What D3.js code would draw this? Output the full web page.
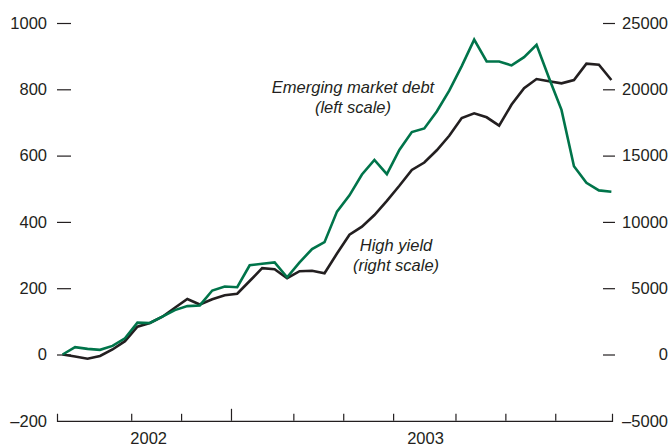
<!DOCTYPE html>
<html>
<head>
<meta charset="utf-8">
<script src="https://cdn.jsdelivr.net/npm/d3@7"></script>
<style>
  html, body { margin: 0; padding: 0; background: #ffffff; }
  svg { display: block; }
  text { font-family: "Liberation Sans", Arial, sans-serif; fill: #231f20; }
</style>
</head>
<body>
<svg id="chart" width="672" height="445"></svg>
<script>
// Weekly observations (index 0..44)
const emergingMarketDebt = [
  0, 22, 17, 14, 26, 49, 96, 95, 114, 134, 146, 148,
  193, 205, 203, 269, 274, 278, 233, 278, 318, 339, 431, 480,
  543, 587, 544, 617, 671, 682, 733, 796, 870, 950, 884, 884,
  872, 897, 934, 834, 738, 568, 518, 495, 491
];
const highYield = [
  0, -150, -317, -113, 377, 1003, 2096, 2375, 2850, 3522, 4186, 3771,
  4170, 4465, 4585, 5543, 6508, 6433, 5754, 6282, 6320, 6124, 7617, 9035,
  9638, 10520, 11591, 12722, 13914, 14480, 15400, 16493, 17836, 18190, 17888, 17255,
  18854, 20075, 20776, 20603, 20452, 20701, 21931, 21855, 20701
];
const leftTicks = [-200, 0, 200, 400, 600, 800, 1000];
const rightTicks = [-5000, 0, 5000, 10000, 15000, 20000, 25000];
const monthTicks = [5.5, 9.5, 13.5, 18.5, 22.5, 26.5, 31.5, 35.5, 39.5];
const yearBoundary = [13.5];
const yearLabels = ["2002", "2003"];
const yearLabelPos = [6.9, 29.1];

const svg = d3.select("#chart");
const ink = "#231f20";
const green = "#00744a";

const x = d3.scaleLinear().domain([-0.45, 44.05]).range([57, 612]);
const yL = d3.scaleLinear().domain([-200, 1000]).range([420.8, 23]);
const yR = d3.scaleLinear().domain([-5000, 25000]).range([420.8, 23]);

const dashFmt = v => String(v).replace("-", "\u2013");

// Left axis
const gL = svg.append("g").attr("transform", "translate(71,0)")
  .call(d3.axisLeft(yL).tickValues(leftTicks).tickSize(14).tickPadding(10).tickFormat(dashFmt));
gL.select(".domain").remove();
gL.selectAll(".tick line").attr("stroke", ink).attr("stroke-width", 1.2)
  .filter(d => d === -200).remove();
gL.selectAll(".tick text").attr("fill", ink).style("font-size", "16.5px")
  .style("font-family", "'Liberation Sans', Arial, sans-serif");

// Right axis
const gR = svg.append("g").attr("transform", "translate(603,0)")
  .call(d3.axisRight(yR).tickValues(rightTicks).tickSize(12).tickPadding(0).tickFormat(dashFmt));
gR.select(".domain").remove();
gR.selectAll(".tick line").attr("stroke", ink).attr("stroke-width", 1.2)
  .filter(d => d === -5000).remove();
gR.selectAll(".tick text").attr("fill", ink).style("font-size", "16.5px")
  .style("font-family", "'Liberation Sans', Arial, sans-serif")
  .attr("text-anchor", "end").attr("x", 65);

// Bottom axis (ticks point upward)
const gB = svg.append("g").attr("transform", "translate(0,420.8)")
  .call(d3.axisBottom(x).tickValues(monthTicks).tickSize(-7).tickSizeOuter(-7).tickFormat(""));
gB.select(".domain").attr("stroke", ink).attr("stroke-width", 1.2);
gB.selectAll(".tick line").attr("stroke", ink).attr("stroke-width", 1.2)
  .attr("y2", d => yearBoundary.includes(d) ? -12 : -7);

svg.append("g").selectAll("text").data(yearLabels).join("text")
  .attr("x", (d, i) => x(yearLabelPos[i]))
  .attr("y", 443.5)
  .attr("text-anchor", "middle")
  .style("font-size", "16.5px")
  .text(d => d);

// Lines
const lineHY = d3.line().x((d, i) => x(i)).y(d => yR(d));
const lineEM = d3.line().x((d, i) => x(i)).y(d => yL(d));

svg.append("path").datum(highYield)
  .attr("d", lineHY).attr("fill", "none")
  .attr("stroke", ink).attr("stroke-width", 2.6).attr("stroke-linejoin", "miter");

svg.append("path").datum(emergingMarketDebt)
  .attr("d", lineEM).attr("fill", "none")
  .attr("stroke", green).attr("stroke-width", 2.6).attr("stroke-linejoin", "miter");

// Annotations
function note(cx, y1, l1, l2) {
  const t = svg.append("text").attr("text-anchor", "middle")
    .style("font-size", "16.5px").style("font-style", "italic");
  t.append("tspan").attr("x", cx).attr("y", y1).text(l1);
  t.append("tspan").attr("x", cx).attr("y", y1 + 20).text(l2);
}
note(353, 93.3, "Emerging market debt", "(left scale)");
note(396, 250.5, "High yield", "(right scale)");
</script>
</body>
</html>
